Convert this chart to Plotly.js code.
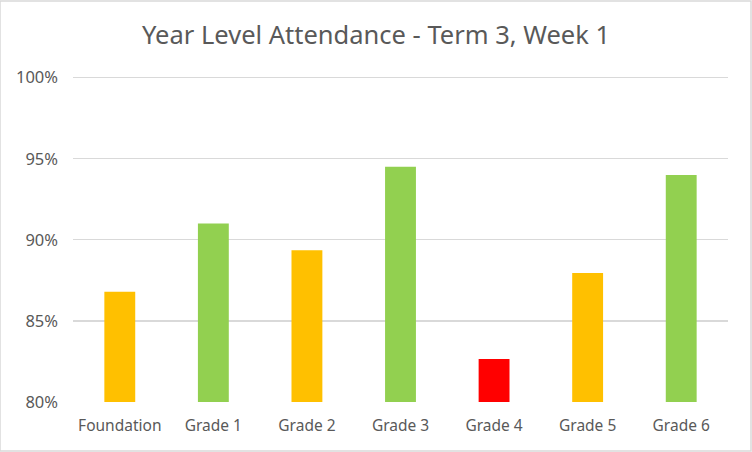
<!DOCTYPE html>
<html><head><meta charset="utf-8">
<script src="https://cdn.plot.ly/plotly-3.0.1.min.js"></script>
<style>html,body{margin:0;padding:0;background:#fff}#c{width:752px;height:452px}</style>
</head><body><div id="c"></div>
<script>
const categories = ["Foundation","Grade 1","Grade 2","Grade 3","Grade 4","Grade 5","Grade 6"];
const attendance = [86.8, 91.0, 89.35, 94.5, 82.65, 87.95, 94.0];
const barColors = ["#FFC000","#92D050","#FFC000","#92D050","#FF0000","#FFC000","#92D050"];
const yTicks = [80,85,90,95,100];
const yTickText = ["80%","85%","90%","95%","100%"];

Plotly.newPlot("c", [{
  type: "bar", x: categories, y: attendance,
  marker: {color: barColors}, width: 0.33, hoverinfo: "x+y"
}], {
  width: 752, height: 452,
  margin: {l: 73, r: 24, t: 76, b: 50},
  paper_bgcolor: "#fff", plot_bgcolor: "#fff",
  font: {family: "Noto Sans, Open Sans, sans-serif", color: "#595959", size: 15},
  title: {text: "Year Level Attendance - Term 3, Week 1", x: 0.5, xanchor: "center", y: 0.922, yanchor: "middle",
          font: {size: 25.5, color: "#595959"}},
  showlegend: false,
  xaxis: {showgrid: false, zeroline: false, showline: false, ticks: "", ticklabelstandoff: 12, tickfont: {size: 15.5}},
  yaxis: {range: [80, 100.1], tickvals: yTicks, ticktext: yTickText, showgrid: true, gridcolor: "#d9d9d9",
          gridwidth: 1.3, zeroline: false, showline: false, ticks: "", ticklabelstandoff: 14, tickfont: {size: 16.5}},
  shapes: [{type: "rect", xref: "paper", yref: "paper", x0: -73/655, x1: 1 + 23/655, y0: -49/326, y1: 1 + 75/326,
            line: {color: "#d9d9d9", width: 1.5}}]
}, {displayModeBar: false, staticPlot: true});
</script></body></html>
